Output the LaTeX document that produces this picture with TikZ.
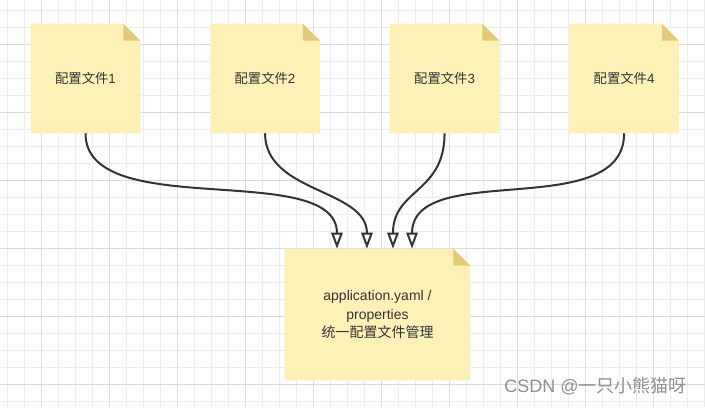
\documentclass[tikz,border=0pt]{standalone}
\usepackage{fontspec}
\setmainfont{Liberation Sans}
\newfontfamily\cjk{Noto Sans CJK SC}
\usetikzlibrary{positioning,arrows.meta,backgrounds}

\definecolor{notefill}{HTML}{FEF1B7}
\definecolor{foldfill}{HTML}{E5C97B}
\definecolor{gridminor}{HTML}{EDEDED}
\definecolor{gridmajor}{HTML}{DCDCDC}
\definecolor{linecol}{HTML}{333333}
\definecolor{markcol}{HTML}{8F8F8F}

\begin{document}
\begin{tikzpicture}[
            x=0.75pt, y=-0.75pt,
            node distance=52.5pt,
            note/.style={minimum width=81.75pt, minimum height=81.75pt, inner sep=0pt,
                text=linecol, font=\fontsize{10}{14}\selectfont},
            link/.style={draw=linecol, line width=1.5pt,
                -{Triangle[open, length=12pt, width=8.5pt, line width=1.5pt]}}
        ]

            \useasboundingbox (0,0) rectangle (705,407);

            \node[note] (file1) at (85.5,78.5) {{\cjk 配置文件}1};
            \node[note, right=of file1] (file2) {{\cjk 配置文件}2};
            \node[note, right=of file2] (file3) {{\cjk 配置文件}3};
            \node[note, right=of file3] (file4) {{\cjk 配置文件}4};
            \node[note, minimum width=138.75pt, minimum height=98.25pt, align=center,
                font=\fontsize{10.5}{14}\selectfont]
                (yaml) at (377.5,314.5) {application.yaml /\\properties\\{\cjk 统一配置文件管理}};

            \node[text=markcol, font=\fontsize{13.5}{16}\selectfont] (mark) at (595.5,386)
                {CSDN @{\cjk 一只小熊猫呀}};

            % grid and note shapes
            \begin{scope}[on background layer]
                \fill[white] (0,0) rectangle (705,407);
                \foreach \i in {0,...,41}
                    \draw[gridminor, line width=0.75pt] (7+17*\i,0) -- (7+17*\i,407);
                \foreach \i in {0,...,23}
                    \draw[gridminor, line width=0.75pt] (0,10+17*\i) -- (705,10+17*\i);
                \foreach \i in {0,...,9}
                    \draw[gridmajor, line width=0.75pt] (41+68*\i,0) -- (41+68*\i,407);
                \foreach \i in {0,...,5}
                    \draw[gridmajor, line width=0.75pt] (0,44+68*\i) -- (705,44+68*\i);

                \foreach \n in {file1,file2,file3,file4,yaml} {
                    \fill[notefill] (\n.north west) -- ([xshift=-12.75pt]\n.north east)
                        -- ([yshift=-12.75pt]\n.north east) -- (\n.south east) -- (\n.south west) -- cycle;
                    \fill[foldfill] ([xshift=-12.75pt]\n.north east)
                        -- ([xshift=-12.75pt,yshift=-12.75pt]\n.north east)
                        -- ([yshift=-12.75pt]\n.north east) -- cycle;
                }
            \end{scope}

            \draw[link] (file1.south) .. controls +(0,90) and +(0,-90) .. ([xshift=-30.4pt]yaml.north);
            \draw[link] (file2.south) .. controls +(0,60) and +(0,-60) .. ([xshift=-7.9pt]yaml.north);
            \draw[link] (file3.south) .. controls +(0,60) and +(0,-60) .. ([xshift=11.6pt]yaml.north);
            \draw[link] (file4.south) .. controls +(0,90) and +(0,-90) .. ([xshift=25.9pt]yaml.north);

        \end{tikzpicture}
\end{document}
